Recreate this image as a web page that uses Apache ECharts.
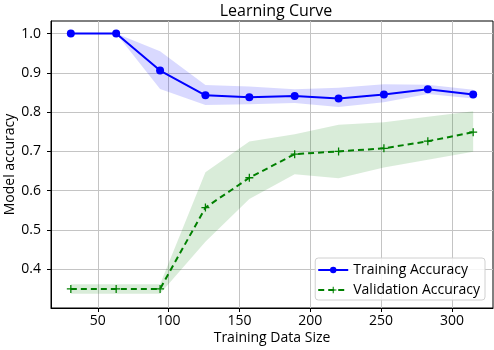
<!DOCTYPE html>
<html>
<head>
<meta charset="utf-8">
<script src="https://cdn.jsdelivr.net/npm/echarts@6/dist/echarts.min.js"></script>
<style>
  html, body { margin: 0; padding: 0; background: #fff; }
  #main { width: 494px; height: 350px; }
</style>
</head>
<body>
<div id="main"></div>
<script>
// training set sizes
var sizes = [31, 63, 94, 126, 157, 189, 220, 252, 283, 315];

var trainMean = [1.0, 1.0, 0.906, 0.843, 0.838, 0.841, 0.835, 0.845, 0.858, 0.845];
var trainUpper = [1.0, 1.0, 0.955, 0.869, 0.865, 0.858, 0.862, 0.871, 0.870, 0.857];
var trainLower = [1.0, 1.0, 0.859, 0.818, 0.820, 0.823, 0.813, 0.825, 0.846, 0.835];

var validMean = [0.35, 0.35, 0.35, 0.557, 0.633, 0.693, 0.700, 0.708, 0.726, 0.749];
var validUpper = [0.362, 0.362, 0.362, 0.647, 0.725, 0.744, 0.768, 0.774, 0.788, 0.802];
var validLower = [0.338, 0.338, 0.338, 0.470, 0.579, 0.642, 0.632, 0.659, 0.679, 0.699];

var xTicks = [50, 100, 150, 200, 250, 300];
var yTicks = [0.4, 0.5, 0.6, 0.7, 0.8, 0.9, 1.0];

var FONT = 'Open Sans';

function pairs(ys) {
    return sizes.map(function (x, i) { return [x, ys[i]]; });
}

// filled band between lower and upper, drawn as one polygon
function band(name, upper, lower, fill) {
    return {
        name: name,
        type: 'custom',
        silent: true,
        clip: true,
        z: 1,
        data: [0],
        renderItem: function (params, api) {
            var pts = [];
            for (var i = 0; i < sizes.length; i++) pts.push(api.coord([sizes[i], upper[i]]));
            for (var j = sizes.length - 1; j >= 0; j--) pts.push(api.coord([sizes[j], lower[j]]));
            return {
                type: 'polygon',
                shape: {points: pts},
                style: {fill: fill, stroke: null}
            };
        }
    };
}

var chart = echarts.init(document.getElementById('main'), null, {renderer: 'canvas'});

var plus = 'path://M-1,-0.16H-0.16V-1H0.16V-0.16H1V0.16H0.16V1H-0.16V0.16H-1Z';

var option = {
    animation: false,
    title: {
        text: 'Learning Curve',
        left: 271,
        top: -2,
        textAlign: 'center',
        textStyle: {fontFamily: FONT, fontSize: 16, fontWeight: 'normal', color: '#000'}
    },
    grid: {
        left: 51, right: 1, top: 21, bottom: 42,
        outerBoundsMode: 'none',
        containLabel: false,
        show: true, borderColor: '#000', borderWidth: 1, backgroundColor: 'transparent'
    },
    legend: {
        right: 9,
        bottom: 50,
        orient: 'vertical',
        data: ['Training Accuracy', 'Validation Accuracy'],
        itemWidth: 30,
        itemHeight: 8,
        itemGap: 4,
        padding: [4, 5, 2, 2],
        backgroundColor: 'rgba(255,255,255,0.85)',
        borderColor: '#d0d0d0',
        borderWidth: 1,
        borderRadius: 3,
        textStyle: {fontFamily: FONT, fontSize: 14, lineHeight: 16, color: '#000'}
    },
    xAxis: {
        type: 'value',
        min: 17,
        max: 329,
        name: 'Training Data Size',
        nameLocation: 'middle',
        nameGap: 23,
        nameMoveOverlap: false,
        nameTextStyle: {fontFamily: FONT, fontSize: 14, color: '#000'},
        axisLine: {lineStyle: {color: '#000', width: 1}},
        axisTick: {show: true, length: 4, customValues: xTicks, lineStyle: {color: '#000'}},
        axisLabel: {customValues: xTicks, margin: 6, fontFamily: FONT, fontSize: 14, color: '#000'},
        splitLine: {show: true, lineStyle: {color: '#c4c4c4', width: 1}}
    },
    yAxis: {
        type: 'value',
        min: 0.3015,
        max: 1.032,
        name: 'Model accuracy',
        nameLocation: 'middle',
        nameGap: 34,
        nameMoveOverlap: false,
        nameTextStyle: {fontFamily: FONT, fontSize: 14, color: '#000'},
        axisLine: {show: true, lineStyle: {color: '#000', width: 1}},
        axisTick: {show: true, length: 4, customValues: yTicks, lineStyle: {color: '#000'}},
        axisLabel: {
            customValues: yTicks, margin: 10, fontFamily: FONT, fontSize: 14, color: '#000',
            formatter: function (v) { return v.toFixed(1); }
        },
        splitLine: {show: true, lineStyle: {color: '#c4c4c4', width: 1}}
    },
    series: [
        band('trainBand', trainUpper, trainLower, 'rgba(0,0,255,0.15)'),
        band('validBand', validUpper, validLower, 'rgba(0,128,0,0.15)'),
        {
            name: 'Training Accuracy',
            type: 'line',
            z: 3,
            data: pairs(trainMean),
            symbol: 'circle',
            symbolSize: 8,
            lineStyle: {color: '#0000ff', width: 2},
            itemStyle: {color: '#0000ff'}
        },
        {
            name: 'Validation Accuracy',
            type: 'line',
            z: 3,
            data: pairs(validMean),
            symbol: plus,
            symbolSize: 8,
            lineStyle: {color: '#008000', width: 2, type: [6, 4]},
            itemStyle: {color: '#008000'}
        }
    ]
};

chart.setOption(option);
</script>
</body>
</html>
